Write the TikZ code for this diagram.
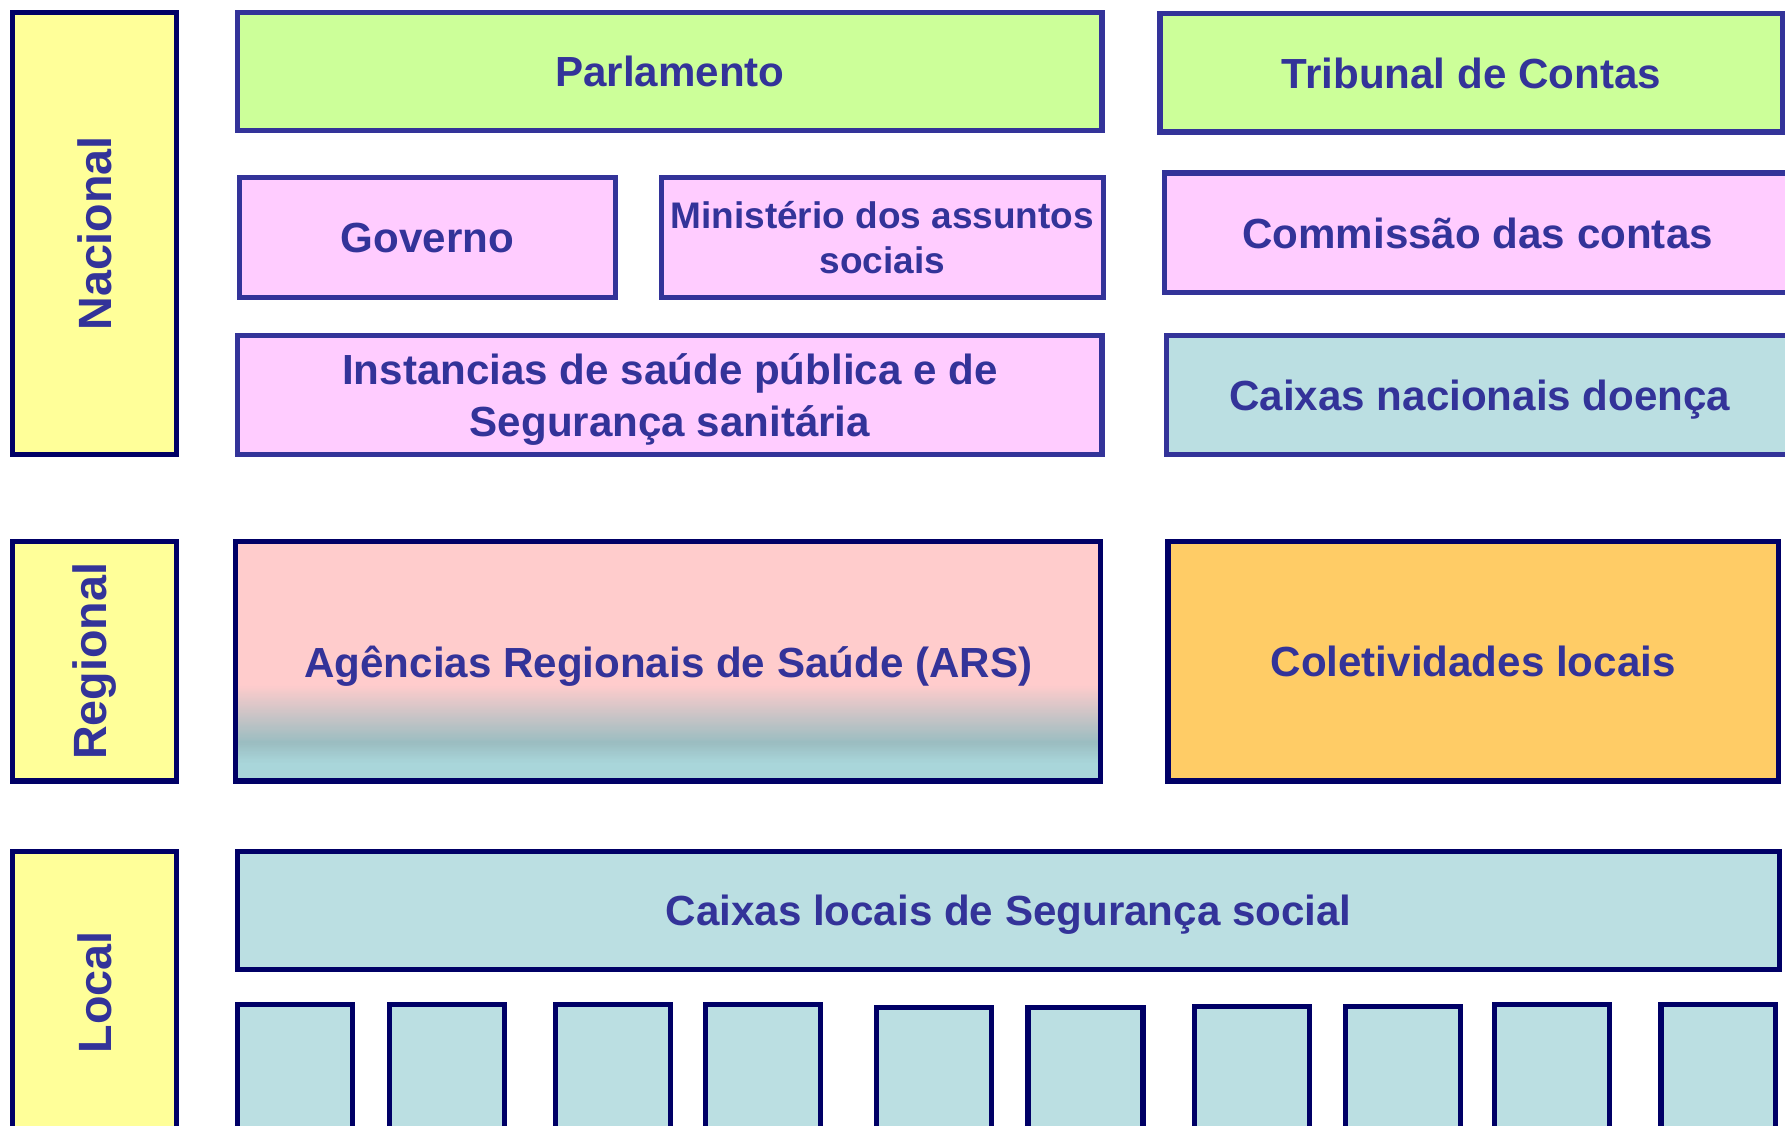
\documentclass[tikz,border=0pt]{standalone}
\usepackage{fontspec}
\setmainfont{Liberation Sans}
\definecolor{txtc}{HTML}{333399}
\definecolor{dkb}{HTML}{000066}
\definecolor{ltb}{HTML}{333399}
\definecolor{yel}{HTML}{FFFF99}
\definecolor{grn}{HTML}{CCFF99}
\definecolor{pnk}{HTML}{FFCCFF}
\definecolor{cyn}{HTML}{BBDFE2}
\definecolor{rose}{HTML}{FFCCCC}
\definecolor{gteal}{HTML}{9BBDC1}
\definecolor{lteal}{HTML}{A9D6DA}
\definecolor{org}{HTML}{FFCC66}
\tikzset{
  box/.style={rectangle, draw=ltb, line width=4.5pt, inner sep=0pt, outer sep=0pt,
    text=txtc, font=\bfseries\fontsize{37}{45}\selectfont, align=center, text depth=0pt},
  dbox/.style={box, draw=dkb},
  lvl/.style={dbox, fill=yel, minimum width=144pt, font=\bfseries\fontsize{41}{45}\selectfont},
  sq/.style={dbox, fill=cyn, minimum width=101pt}
}
\begin{document}
\begin{tikzpicture}[x=1pt,y=-1pt]
\clip (0,0) rectangle (1568,989);
\fill[white] (0,0) rectangle (1568,989);
% level labels
\node[lvl, minimum height=388pt] (nac) at (83,205) {\rotatebox{90}{Nacional}};
\node[lvl, minimum height=210pt] (reg) at (83,581) {\rotatebox{90}{Regional}};
\node[lvl, minimum height=247pt] (loc) at (83,871.5) {\rotatebox{90}{Local}};
% national
\node[box, fill=grn, minimum width=759pt, minimum height=104pt] (parl) at (588.5,63) {Parlamento};
\node[box, fill=grn, minimum width=547pt, minimum height=104pt] (trib) at (1292.5,64) {Tribunal de Contas};
\node[box, fill=pnk, minimum width=331pt, minimum height=105pt] (gov) at (375.5,208.5) {Governo};
\node[box, fill=pnk, minimum width=388pt, minimum height=105pt,
      font=\bfseries\fontsize{32.5}{39}\selectfont] (min) at (775,208.5) {Ministério dos assuntos\\sociais};
\node[box, fill=pnk, minimum width=550pt, minimum height=105pt] (com) at (1298,204.5) {Commissão das contas};
\node[box, fill=pnk, minimum width=759pt, minimum height=104pt] (inst) at (588.5,347) {Instancias de saúde pública e de\\Segurança sanitária};
\node[box, fill=cyn, minimum width=550pt, minimum height=104pt] (cxn) at (1300,347) {Caixas nacionais doença};
% regional: gradient background of the ARS box
\fill[rose] (207,476) rectangle (967,686);
\foreach \k in {0,...,50}{
  \pgfmathtruncatemacro\p{\k/50*100}
  \fill[gteal!\p!rose] (207,{601+\k}) rectangle (967,{602.4+\k});
}
\foreach \k in {0,...,33}{
  \pgfmathtruncatemacro\p{min(\k/18*100,100)}
  \fill[lteal!\p!gteal] (207,{652+\k}) rectangle (967,{653.4+\k});
}
\node[dbox, minimum width=760pt, minimum height=210pt] (ars) at (587,581) {Agências Regionais de Saúde (ARS)};
\node[dbox, fill=org, minimum width=536pt, minimum height=210pt] (col) at (1294,581) {Coletividades locais};
% local
\node[dbox, fill=cyn, minimum width=1354pt, minimum height=104pt] (cxl) at (886,800) {Caixas locais de Segurança social};
\foreach \i/\x/\t in {1/259.5/882, 2/392.5/882, 3/538.5/882, 4/670.5/882, 5/820.5/885,
                      6/953.5/885, 7/1099.5/884, 8/1232.5/884, 9/1363.5/882, 10/1509.5/882}
  \node[sq, minimum height={1000-\t}] (s\i) at (\x,{(\t+1000)/2}) {};
\end{tikzpicture}
\end{document}
